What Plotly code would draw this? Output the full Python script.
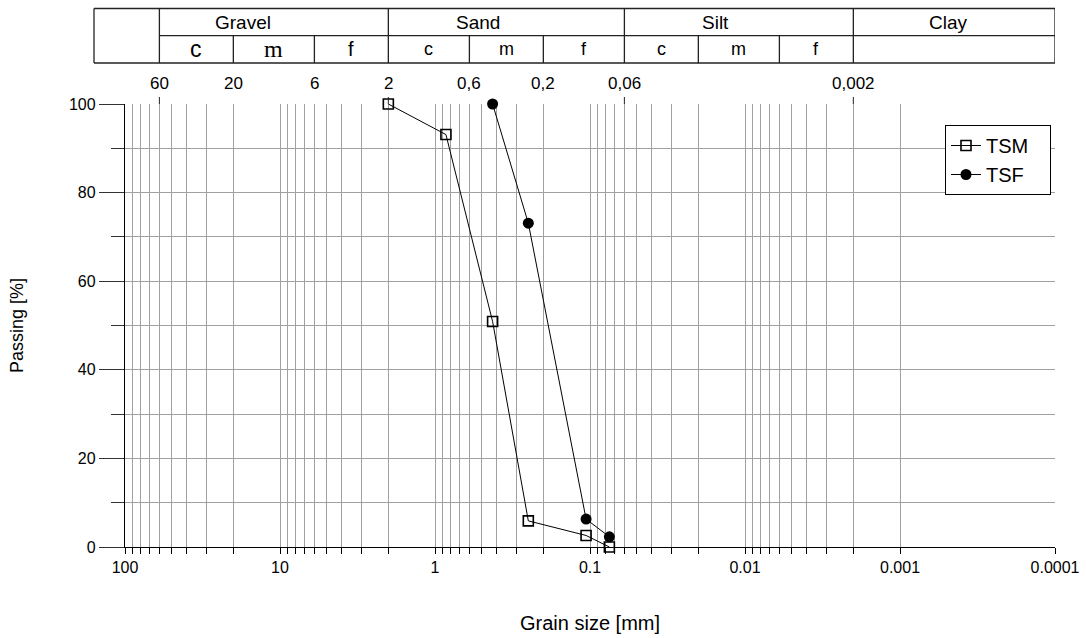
import numpy as np
import plotly.graph_objects as go

# ---------------- data ----------------
tsm_size = [2.0, 0.85, 0.425, 0.25, 0.106, 0.075]
tsm_pass = [100.0, 93.1, 50.9, 5.9, 2.6, 0.0]
tsf_size = [0.425, 0.25, 0.106, 0.075]
tsf_pass = [100.0, 73.1, 6.3, 2.3]

x_decades = [100, 10, 1, 0.1, 0.01, 0.001, 0.0001]
x_decade_labels = ["100", "10", "1", "0.1", "0.01", "0.001", "0.0001"]
y_major = [0, 20, 40, 60, 80, 100]

top_scale_values = [60, 20, 6, 2, 0.6, 0.2, 0.06, 0.002]
top_scale_labels = ["60", "20", "6", "2", "0,6", "0,2", "0,06", "0,002"]
top_tick_values = [60, 2, 0.06, 0.002]

main_bounds = [60, 2, 0.06, 0.002, 0.0001]
sub_bounds = [20, 6, 0.6, 0.2, 0.02, 0.006]
group_names = ["Gravel", "Sand", "Silt", "Clay"]
group_label_at = [17.3, 0.528, 0.0156, 0.00049]
sub_cells = [(60, 20), (20, 6), (6, 2), (2, 0.6), (0.6, 0.2), (0.2, 0.06),
             (0.06, 0.02), (0.02, 0.006), (0.006, 0.002)]
sub_names = ["c", "m", "f", "c", "m", "f", "c", "m", "f"]

FONT = "Arial, Liberation Sans, sans-serif"
GRID = "#a0a0a0"

# all log gridline positions
tickvals = []
ticktext = []
for e in range(2, -5, -1):
    for k in range(1, 10):
        v = k * 10.0 ** e
        if v > 100.0001:
            continue
        if e == -4 and k > 1:
            continue
        tickvals.append(v)
        ticktext.append(x_decade_labels[x_decades.index(10 ** e)] if k == 1 else "")

NB = "\u00a0"
fig = go.Figure()
fig.add_trace(go.Scatter(
    x=tsm_size, y=tsm_pass, name="TSM" + NB * 3, mode="lines+markers", cliponaxis=False,
    line=dict(color="black", width=1),
    marker=dict(symbol="square-open", size=10, color="black", line=dict(width=1.6, color="black")),
))
fig.add_trace(go.Scatter(
    x=tsf_size, y=tsf_pass, name="TSF", mode="lines+markers", cliponaxis=False,
    line=dict(color="black", width=1),
    marker=dict(symbol="circle", size=11, color="black"),
))

# ----- table geometry (paper y) -----
PH = 443.0
def py(pix):
    return (547.0 - pix) / PH

y_top, y_mid, y_bot = py(8.5), py(35.7), py(63.0)
left_paper = -31.0 / 930.0

shapes = []
line_style = dict(color="#222222", width=1.3)
shapes.append(dict(type="line", xref="paper", yref="paper", x0=left_paper, x1=1.0,
                   y0=y_top, y1=y_top, line=line_style))
shapes.append(dict(type="line", xref="paper", yref="paper", x0=left_paper, x1=1.0,
                   y0=y_bot, y1=y_bot, line=line_style))
shapes.append(dict(type="line", xref="x", yref="paper", x0=main_bounds[0], x1=main_bounds[-1],
                   y0=y_mid, y1=y_mid, line=line_style))
shapes.append(dict(type="line", xref="paper", yref="paper", x0=left_paper, x1=left_paper,
                   y0=y_bot, y1=y_top, line=line_style))
for b in main_bounds:
    shapes.append(dict(type="line", xref="x", yref="paper", x0=b, x1=b,
                       y0=y_bot, y1=y_top, line=line_style))
for b in sub_bounds:
    shapes.append(dict(type="line", xref="x", yref="paper", x0=b, x1=b,
                       y0=y_bot, y1=y_mid, line=line_style))
for b in top_tick_values:
    shapes.append(dict(type="line", xref="x", yref="paper", x0=b, x1=b,
                       y0=1.0, y1=py(97), line=dict(color="#222222", width=1)))

annotations = []
for name, pos in zip(group_names, group_label_at):
    annotations.append(dict(x=np.log10(pos), y=(y_top + y_mid) / 2, xref="x", yref="paper",
                            xanchor="center", yanchor="middle",
                            text=name, showarrow=False, font=dict(family=FONT, size=19, color="black")))
for i, ((a, b), name) in enumerate(zip(sub_cells, sub_names)):
    fnt = dict(family=FONT, size=18, color="black")
    if i == 0:
        fnt = dict(family=FONT, size=23, color="black")
    elif i == 1:
        fnt = dict(family="Liberation Serif, Times New Roman, serif", size=24, color="black")
    elif i == 2:
        fnt = dict(family=FONT, size=20, color="black")
    annotations.append(dict(x=(np.log10(a) + np.log10(b)) / 2, y=(y_mid + y_bot) / 2,
                            xref="x", yref="paper", xanchor="center", yanchor="middle",
                            text=name, showarrow=False, font=fnt))
for v, t in zip(top_scale_values, top_scale_labels):
    annotations.append(dict(x=np.log10(v), y=py(83), xref="x", yref="paper", text=t,
                            xanchor="center", yanchor="middle",
                            showarrow=False, font=dict(family=FONT, size=17, color="black")))

fig.update_layout(
    width=1086, height=638,
    margin=dict(l=125, r=31, t=104, b=91, autoexpand=False),
    paper_bgcolor="white", plot_bgcolor="white",
    font=dict(family=FONT, size=16, color="black"),
    showlegend=True,
    legend=dict(x=(945 - 125) / 930.0, y=py(125), xanchor="left", yanchor="top",
                bgcolor="white", bordercolor="black", borderwidth=1,
                font=dict(family=FONT, size=20, color="black"),
                itemwidth=30, tracegroupgap=0),
    xaxis=dict(type="log", range=[2, -4], tickmode="array", tickvals=tickvals, ticktext=ticktext,
               automargin=False,
               showgrid=True, gridcolor=GRID, gridwidth=1,
               ticks="outside", ticklen=6, tickcolor="black", tickwidth=1,
               showline=True, linecolor="black", linewidth=1.3, zeroline=False,
               tickfont=dict(family=FONT, size=16, color="black"),
               title=dict(text="Grain size [mm]", font=dict(family=FONT, size=20, color="black"), standoff=40)),
    yaxis=dict(range=[0, 100], tickmode="array", tickvals=y_major, automargin=False,
               showgrid=True, gridcolor=GRID, gridwidth=1,
               ticks="outside", ticklen=25, tickcolor="#333333", tickwidth=1.3,
               minor=dict(dtick=10, ticks="outside", ticklen=13, tickcolor="#333333",
                          showgrid=True, gridcolor=GRID, gridwidth=1),
               showline=True, linecolor="black", linewidth=1.3, zeroline=False,
               tickfont=dict(family=FONT, size=16, color="black"),
               title=dict(text="Passing [%]", font=dict(family=FONT, size=18, color="black"), standoff=40)),
    shapes=shapes, annotations=annotations,
)

fig.write_html("out.html")
